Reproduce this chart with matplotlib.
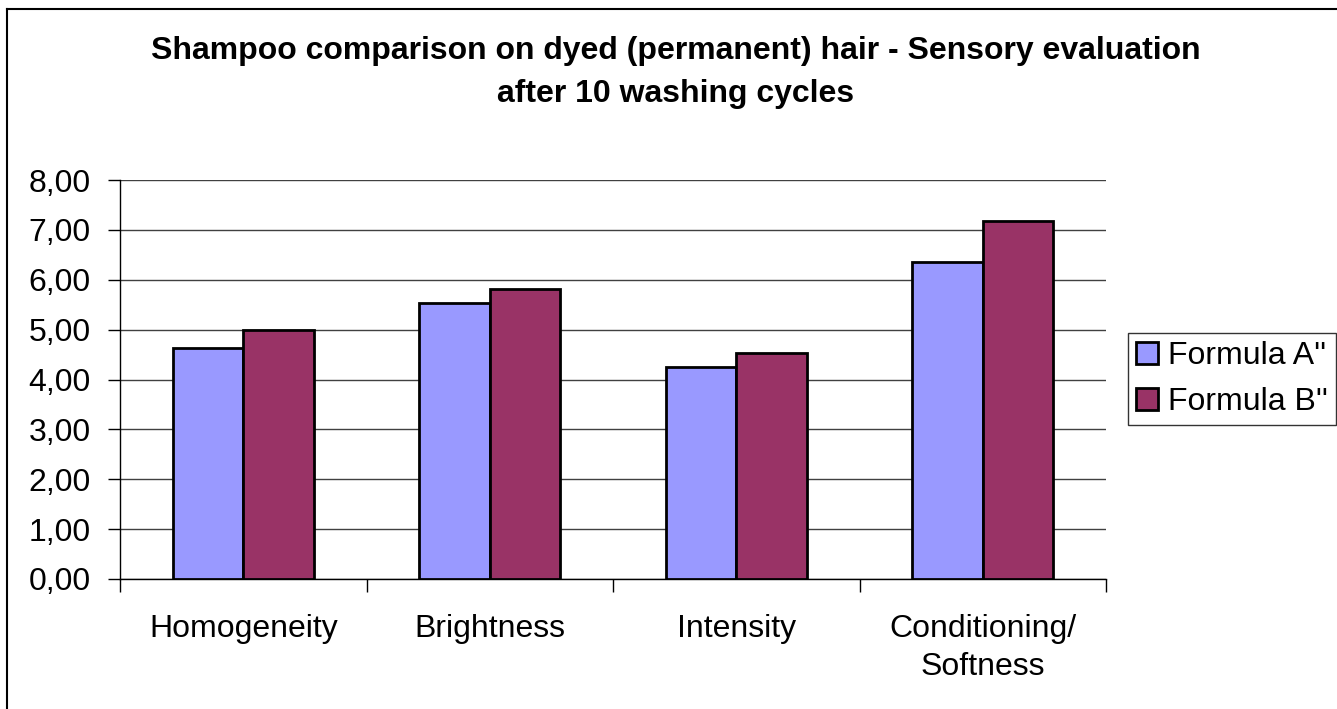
import matplotlib.pyplot as plt
from matplotlib.lines import Line2D

categories = ["Homogeneity", "Brightness", "Intensity", "Conditioning/\nSoftness"]
formula_a = [4.63, 5.54, 4.26, 6.36]
formula_b = [5.00, 5.82, 4.54, 7.18]
series_names = ["Formula A''", "Formula B''"]
yticks = [0, 1, 2, 3, 4, 5, 6, 7, 8]

plt.rcParams['font.family'] = ['Liberation Sans', 'DejaVu Sans']

W, H = 1337, 709
fig = plt.figure(figsize=(W / 100, H / 100), dpi=100)
ax = fig.add_axes([120 / W, 1 - 579 / H, (1106 - 120) / W, (579 - 180) / H])

w = 0.286
x = list(range(len(categories)))
ax.bar([i - w / 2 for i in x], formula_a, w, color='#9999FF', edgecolor='black', linewidth=2, zorder=3, label=series_names[0])
ax.bar([i + w / 2 for i in x], formula_b, w, color='#993366', edgecolor='black', linewidth=2, zorder=3, label=series_names[1])

ax.set_xlim(-0.5, 3.5)
ax.set_ylim(0, 8)
ax.set_yticks(yticks)
ax.set_yticklabels([("%.2f" % v).replace('.', ',') for v in yticks], fontsize=23)
ax.set_xticks(x)
ax.set_xticklabels(categories, fontsize=23, linespacing=1.35)
ax.set_xticks([-0.5, 0.5, 1.5, 2.5, 3.5], minor=True)
ax.tick_params(axis='x', which='major', length=0, pad=25)
ax.tick_params(axis='x', which='minor', length=9, width=1, direction='out')
ax.tick_params(axis='y', length=9, width=1, direction='out', pad=12)
ax.yaxis.grid(True, color='#404040', linewidth=1)
ax.set_axisbelow(True)
for s in ['top', 'right']:
    ax.spines[s].set_visible(False)
for s in ['left', 'bottom']:
    ax.spines[s].set_linewidth(1)
    ax.spines[s].set_color('black')

fig.text(676 / W, 1 - 51 / H, "Shampoo comparison on dyed (permanent) hair - Sensory evaluation",
         ha='center', va='center', fontsize=23, fontweight='bold')
fig.text(676 / W, 1 - 94 / H, "after 10 washing cycles",
         ha='center', va='center', fontsize=23, fontweight='bold')

leg = fig.legend(loc='upper left', bbox_to_anchor=(1128 / W, 1 - 333 / H), fontsize=23,
                 frameon=True, fancybox=False, edgecolor='black', handlelength=0.7, handleheight=0.7,
                 handletextpad=0.3, borderpad=0.25, labelspacing=0.5, borderaxespad=0)
leg.get_frame().set_linewidth(1)
for p in leg.get_patches():
    p.set_linewidth(2)

# chart border (only top and left edges are inside the crop)
fig.add_artist(Line2D([7 / W, 1], [1 - 9 / H, 1 - 9 / H], transform=fig.transFigure, color='black', linewidth=1.5))
fig.add_artist(Line2D([7 / W, 7 / W], [0, 1 - 9 / H], transform=fig.transFigure, color='black', linewidth=1.5))

fig.savefig('out.png', dpi=100)
